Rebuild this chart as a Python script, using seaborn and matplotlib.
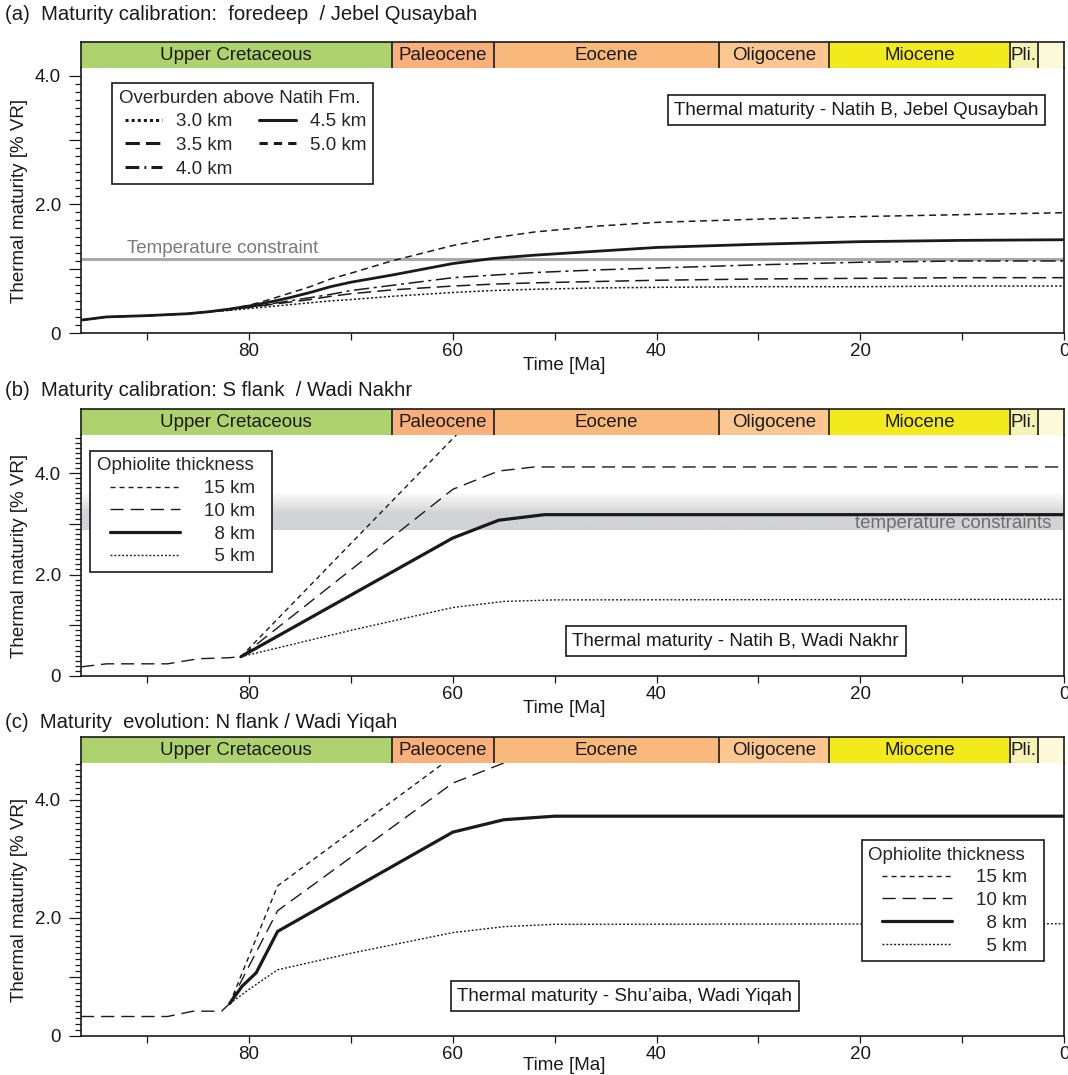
"""
Thermal maturity evolution - three panels (foredeep, S flank, N flank)
with a geological timescale strip above every panel.
"""
import numpy as np
import matplotlib
matplotlib.use("Agg")
import matplotlib.pyplot as plt
from matplotlib.lines import Line2D
from matplotlib.legend_handler import HandlerLine2D
from matplotlib.ticker import MultipleLocator, FixedLocator, FuncFormatter
from matplotlib.colors import LinearSegmentedColormap
import seaborn as sns

sns.set_style("white")
plt.rcParams["font.family"] = ["Liberation Sans", "DejaVu Sans"]
plt.rcParams.update({"xtick.bottom": True, "ytick.left": True,
                     "xtick.minor.bottom": True, "ytick.minor.left": True})

INK = "#1a1a1a"
FS = 13.5
X_OLD, X_YOUNG = 96.5, 0.0
FIG_W, FIG_H = 1068, 1075

# ---------- timescale strip ----------
epoch_names = ["Upper Cretaceous", "Paleocene", "Eocene", "Oligocene", "Miocene", "Pli.", ""]
epoch_start = [100.5, 66.0, 56.0, 33.9, 23.03, 5.33, 2.58]
epoch_end = [66.0, 56.0, 33.9, 23.03, 5.33, 2.58, 0.0]
epoch_colors = ["#aed36e", "#f9b07a", "#f9b97c", "#fcc690", "#f2ea1a", "#f4f2b4", "#fdf8d8"]

x_major = [80, 60, 40, 20, 0]
x_minor = [90, 70, 50, 30, 10]

# ---------- (a) foredeep / Jebel Qusaybah ----------
age_a = [96.5, 94, 90, 86, 84, 82, 80, 78, 76, 74, 72, 70, 66, 62, 60, 56, 52, 46, 40, 30, 20, 10, 0]
vr_a_30 = [0.20, 0.25, 0.27, 0.30, 0.33, 0.35, 0.38, 0.41, 0.44, 0.47, 0.50, 0.52, 0.57, 0.61, 0.63, 0.66, 0.68, 0.70, 0.71, 0.72, 0.72, 0.73, 0.73]
vr_a_35 = [0.20, 0.25, 0.27, 0.30, 0.33, 0.36, 0.40, 0.44, 0.48, 0.52, 0.57, 0.61, 0.67, 0.71, 0.73, 0.76, 0.78, 0.80, 0.82, 0.84, 0.85, 0.86, 0.86]
vr_a_40 = [0.20, 0.25, 0.27, 0.30, 0.33, 0.36, 0.40, 0.45, 0.50, 0.55, 0.60, 0.66, 0.74, 0.82, 0.86, 0.90, 0.94, 0.98, 1.01, 1.06, 1.10, 1.12, 1.12]
vr_a_45 = [0.20, 0.25, 0.27, 0.30, 0.33, 0.37, 0.42, 0.48, 0.55, 0.63, 0.72, 0.79, 0.90, 1.02, 1.08, 1.16, 1.21, 1.27, 1.33, 1.38, 1.42, 1.44, 1.45]
vr_a_50 = [0.20, 0.25, 0.27, 0.30, 0.33, 0.37, 0.43, 0.52, 0.62, 0.72, 0.84, 0.93, 1.12, 1.28, 1.36, 1.48, 1.57, 1.66, 1.72, 1.77, 1.81, 1.84, 1.87]
temp_constraint_a = 1.15

# ---------- (b) S flank / Wadi Nakhr ----------
age_b_pre = [96.5, 94, 88, 85, 82, 80.8]
vr_b_pre = [0.18, 0.24, 0.24, 0.34, 0.36, 0.38]
age_b_15 = [80.8, 60, 56]
vr_b_15 = [0.38, 4.68, 5.50]
age_b_10 = [80.8, 60, 55.5, 52, 0]
vr_b_10 = [0.38, 3.68, 4.04, 4.12, 4.12]
age_b_8 = [80.8, 60, 55.5, 51, 0]
vr_b_8 = [0.38, 2.72, 3.07, 3.18, 3.18]
age_b_5 = [80.8, 70, 60, 55, 50, 0]
vr_b_5 = [0.38, 0.90, 1.35, 1.47, 1.50, 1.51]
band_b = (2.87, 3.20, 3.60)   # bottom, top of solid part, top of fade

# ---------- (c) N flank / Wadi Yiqah ----------
age_c_pre = [96.5, 88, 85.5, 82.7, 81.9]
vr_c_pre = [0.33, 0.33, 0.42, 0.42, 0.55]
age_c_15 = [81.9, 77.2, 60.8, 55]
vr_c_15 = [0.55, 2.54, 4.63, 5.35]
age_c_10 = [81.9, 77.2, 60, 55, 50]
vr_c_10 = [0.55, 2.12, 4.28, 4.62, 4.85]
age_c_8 = [81.9, 80.7, 79.3, 77.2, 60, 55, 50, 0]
vr_c_8 = [0.55, 0.84, 1.07, 1.77, 3.45, 3.66, 3.72, 3.72]
age_c_5 = [81.9, 79.5, 77.2, 70, 60, 55, 50, 0]
vr_c_5 = [0.55, 0.85, 1.12, 1.40, 1.75, 1.85, 1.89, 1.90]

# line styles
SHORT = (0, (3.6, 2.9))
LONG = (0, (9.5, 5))
DOT = (0, (1.4, 1.4))
thick_labels = ["15 km\u2007", "10 km\u2007", "\u20078 km\u2007", "\u20075 km\u2007"]
thick_styles = [dict(ls=SHORT, lw=1.0), dict(ls=LONG, lw=1.0), dict(ls="-", lw=2.3), dict(ls=DOT, lw=1.0)]


class IndentedLine(HandlerLine2D):
    """legend line that starts a little to the right of the title"""
    def __init__(self, indent, **kw):
        super().__init__(**kw)
        self.indent = indent

    def create_artists(self, legend, orig_handle, xdescent, ydescent, width, height, fontsize, trans):
        artists = super().create_artists(legend, orig_handle, xdescent, ydescent,
                                         width, height, fontsize, trans)
        for a in artists:
            xd = np.asarray(a.get_xdata(), dtype=float)
            if xd.size >= 2:
                a.set_xdata(np.linspace(xd[0] + self.indent * width, xd[-1], xd.size))
        return artists


def px_axes(left, top, right, bottom):
    return fig.add_axes([left / FIG_W, 1 - bottom / FIG_H, (right - left) / FIG_W, (bottom - top) / FIG_H])


def vr_fmt(v, pos):
    if abs(v) < 1e-9:
        return "0"
    if abs(v % 2) < 1e-9:
        return f"{v:.1f}"
    return ""


def draw_timescale(bax):
    bax.set_xlim(X_OLD, X_YOUNG)
    bax.set_ylim(0, 1)
    for name, s, e, c in zip(epoch_names, epoch_start, epoch_end, epoch_colors):
        s = min(s, X_OLD)
        bax.axvspan(e, s, color=c, lw=0)
        if name:
            bax.text((s + e) / 2, 0.47, name, ha="center", va="center", fontsize=FS, color=INK)
    for b in epoch_end[:-1]:
        bax.axvline(b, color=INK, lw=1.2)
    bax.tick_params(which="both", left=False, bottom=False, labelleft=False, labelbottom=False)
    bax.spines["bottom"].set_visible(False)
    for s in ["left", "right", "top"]:
        bax.spines[s].set_color(INK)
        bax.spines[s].set_linewidth(1.2)


def style_main(ax, ytop, yminor, xlab_px):
    ax.set_xlim(X_OLD, X_YOUNG)
    ax.set_ylim(0, ytop)
    ax.spines["top"].set_visible(False)
    for s in ["left", "right", "bottom"]:
        ax.spines[s].set_color(INK)
        ax.spines[s].set_linewidth(1.2)
    ax.minorticks_on()
    ax.xaxis.set_major_locator(FixedLocator(x_major))
    ax.xaxis.set_minor_locator(FixedLocator(x_minor))
    ax.yaxis.set_major_locator(MultipleLocator(1))
    ax.yaxis.set_minor_locator(MultipleLocator(yminor))
    ax.yaxis.set_major_formatter(FuncFormatter(vr_fmt))
    ax.tick_params(axis="x", which="both", bottom=True, top=False, direction="out", length=5, width=0.9,
                   pad=2, labelsize=FS, colors=INK)
    ax.tick_params(axis="y", which="both", left=True, right=False, direction="out", length=4.5,
                   width=0.9, colors=INK)
    ax.tick_params(axis="y", which="major", length=8.5, pad=6, labelsize=FS)
    ax.set_xlabel("Time [Ma]", fontsize=FS, color=INK)
    ax.set_ylabel("Thermal maturity [% VR]", fontsize=FS, color=INK)
    h_px = ax.get_position().height * FIG_H
    ax.xaxis.set_label_coords(0.492, -xlab_px / h_px)
    ax.yaxis.set_label_coords(-0.054, 0.5)


def note_box(ax, x, y, text):
    ax.text(x, y, text, transform=ax.transAxes, ha="center", va="center", fontsize=FS, color=INK, zorder=6,
            bbox=dict(boxstyle="square,pad=0.35", fc="white", ec=INK, lw=1.2))


def thickness_legend(ax, loc, anchor):
    handles = [Line2D([], [], color=INK, ls=st["ls"], lw=st["lw"]) for st in thick_styles]
    leg = ax.legend(handles, thick_labels, title="Ophiolite thickness", loc=loc,
                    bbox_to_anchor=anchor, borderaxespad=0, handlelength=4.45,
                    handletextpad=1.3, labelspacing=0.3, borderpad=0.35, fontsize=FS,
                    title_fontsize=FS, alignment="left", fancybox=False, edgecolor=INK,
                    framealpha=1, handler_map={Line2D: IndentedLine(0.16)})
    leg.get_frame().set_linewidth(1.2)
    return leg


def line(ax, x, y, ls, lw):
    sns.lineplot(x=x, y=y, ax=ax, color=INK, linestyle=ls, linewidth=lw,
                 errorbar=None, legend=False, sort=False)


fig = plt.figure(figsize=(FIG_W / 100, FIG_H / 100), dpi=100)

# ================= panel (a) =================
fig.text(5 / FIG_W, 1 - 15 / FIG_H, "(a)  Maturity calibration:  foredeep  / Jebel Qusaybah",
         fontsize=14.6, va="center", ha="left", color=INK)
bar_a = px_axes(81, 42, 1064, 68)
ax_a = px_axes(81, 68, 1064, 333)
draw_timescale(bar_a)

ax_a.axhline(temp_constraint_a, color="#a9a9a9", lw=2.2, zorder=1)
ax_a.text(92.0, 1.24, "Temperature constraint", fontsize=FS, color="#7a7a7a", ha="left", va="baseline")

styles_a = [
    ("3.0 km", vr_a_30, DOT, 1.1, (0, (1, 1))),
    ("3.5 km", vr_a_35, (0, (9, 4)), 1.1, (0, (4.7, 2))),
    ("4.0 km", vr_a_40, (0, (10, 3, 2, 3)), 1.1, (0, (4.5, 1.7, 0.6, 1.7))),
    ("4.5 km", vr_a_45, "-", 2.0, "-"),
    ("5.0 km", vr_a_50, (0, (4.5, 3)), 1.1, (0, (2.7, 2))),
]
for name, vals, ls, lw, _ in styles_a:
    if ls != "-":
        line(ax_a, age_a, vals, ls, lw)
line(ax_a, age_a, vr_a_45, "-", 2.0)

handles_a = [Line2D([], [], color=INK, ls=hls, lw=2.2) for _, _, _, _, hls in styles_a]
leg_a = ax_a.legend(handles_a, [s[0] for s in styles_a], title="Overburden above Natih Fm.",
                    loc="upper left", bbox_to_anchor=(0.0315, 0.943), borderaxespad=0, ncol=2,
                    handlelength=2.3, handletextpad=0.75, columnspacing=1.1, labelspacing=0.35,
                    borderpad=0.35, fontsize=FS, title_fontsize=FS, alignment="left",
                    fancybox=False, edgecolor=INK, framealpha=1,
                    handler_map={Line2D: IndentedLine(0.15)})
leg_a.get_frame().set_linewidth(1.2)
note_box(ax_a, 0.789, 0.8415, "Thermal maturity - Natih B, Jebel Qusaybah")
style_main(ax_a, 4.12, 0.125, 24)

# ================= panel (b) =================
fig.text(5 / FIG_W, 1 - 391 / FIG_H, "(b)  Maturity calibration: S flank  / Wadi Nakhr",
         fontsize=14.6, va="center", ha="left", color=INK)
bar_b = px_axes(81, 409, 1064, 435)
ax_b = px_axes(81, 435, 1064, 676)
draw_timescale(bar_b)

# temperature constraint band: solid grey with a fade towards the top
yy = np.linspace(band_b[0], band_b[2], 200)
shade = np.clip((band_b[2] - yy) / (band_b[2] - band_b[1]), 0, 1)[:, None]
band_cmap = LinearSegmentedColormap.from_list("band", ["#ffffff", "#d2d3d5"])
ax_b.imshow(shade, extent=(X_OLD, X_YOUNG, band_b[0], band_b[2]), origin="lower",
            aspect="auto", cmap=band_cmap, vmin=0, vmax=1, zorder=0)
ax_b.text(1.2, 2.92, "temperature constraints", fontsize=FS, color="#6e6e6e", ha="right", va="baseline")

line(ax_b, age_b_pre, vr_b_pre, LONG, 1.0)
for (ages, vals), st in zip([(age_b_15, vr_b_15), (age_b_10, vr_b_10), (age_b_8, vr_b_8), (age_b_5, vr_b_5)],
                            thick_styles):
    line(ax_b, ages, vals, st["ls"], st["lw"])

thickness_legend(ax_b, "upper left", (0.0092, 0.934))
note_box(ax_b, 0.666, 0.145, "Thermal maturity - Natih B, Wadi Nakhr")
style_main(ax_b, 4.75, 0.1, 24)

# ================= panel (c) =================
fig.text(5 / FIG_W, 1 - 722 / FIG_H, "(c)  Maturity  evolution: N flank / Wadi Yiqah",
         fontsize=14.6, va="center", ha="left", color=INK)
bar_c = px_axes(81, 737, 1064, 763)
ax_c = px_axes(81, 763, 1064, 1036)
draw_timescale(bar_c)

line(ax_c, age_c_pre, vr_c_pre, LONG, 1.0)
for (ages, vals), st in zip([(age_c_15, vr_c_15), (age_c_10, vr_c_10), (age_c_8, vr_c_8), (age_c_5, vr_c_5)],
                            thick_styles):
    line(ax_c, ages, vals, st["ls"], st["lw"])

thickness_legend(ax_c, "upper right", (0.98, 0.718))
note_box(ax_c, 0.553, 0.1465, "Thermal maturity - Shu\u2019aiba, Wadi Yiqah")
style_main(ax_c, 4.62, 0.1, 21)

fig.savefig("out.png", dpi=100)
